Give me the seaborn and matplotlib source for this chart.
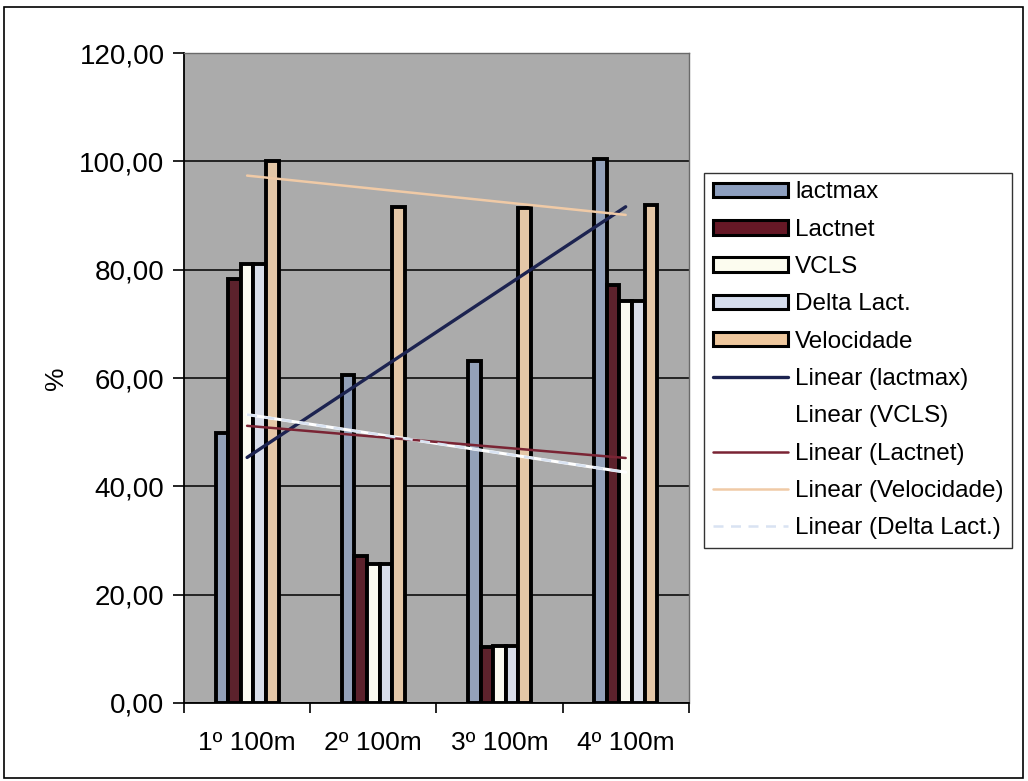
import matplotlib
matplotlib.use("Agg")
import matplotlib.pyplot as plt
import matplotlib.patches as mpatches
import numpy as np
import pandas as pd
import seaborn as sns

# data (percent values)
categories = ["1º 100m", "2º 100m", "3º 100m", "4º 100m"]
series = ["lactmax", "Lactnet", "VCLS", "Delta Lact.", "Velocidade"]
lactmax = [49.8, 60.6, 63.1, 100.4]
lactnet = [78.2, 27.1, 10.3, 77.2]
vcls = [81.1, 25.7, 10.6, 74.3]
delta_lact = [81.1, 25.7, 10.6, 74.3]
velocidade = [100.0, 91.6, 91.4, 92.0]

colors = ["#8d9fbf", "#661826", "#fcfcef", "#d5dcec", "#eec79d"]

rows = []
for name, vals in zip(series, [lactmax, lactnet, vcls, delta_lact, velocidade]):
    for cat, v in zip(categories, vals):
        rows.append({"cat": cat, "serie": name, "val": v})
df = pd.DataFrame(rows)

sns.set_style("white")
plt.rcParams["font.family"] = ["Liberation Sans", "DejaVu Sans"]
plt.rcParams["text.color"] = "black"
plt.rcParams["axes.labelcolor"] = "black"
plt.rcParams["xtick.color"] = "black"
plt.rcParams["ytick.color"] = "black"

fig = plt.figure(figsize=(10.28, 7.81), dpi=100)
ax = fig.add_axes([0.179, 0.1, 0.491, 0.832])
ax.set_facecolor("#ababab")

sns.barplot(data=df, x="cat", y="val", hue="serie", palette=colors, width=0.5,
            edgecolor="black", linewidth=2.8, ax=ax, zorder=3, legend=False)

# linear trendlines (excel style, fitted on category index)
xs = np.arange(len(categories))
trends = [
    ("Linear (lactmax)", lactmax, "#1c2350", "-", 2.4),
    ("Linear (VCLS)", vcls, "#ffffff", "-", 2.2),
    ("Linear (Lactnet)", lactnet, "#7a2434", "-", 1.8),
    ("Linear (Velocidade)", velocidade, "#f0caa6", "-", 1.8),
    ("Linear (Delta Lact.)", delta_lact, "#d9e3f2", (0, (4, 3)), 1.8),
]
trend_handles = []
for label, vals, col, ls, lw in trends:
    k, b = np.polyfit(xs, vals, 1)
    line, = ax.plot(xs, k * xs + b, color=col, ls=ls, lw=lw, zorder=4, label=label)
    trend_handles.append(line)

ax.set_ylim(0, 120)
ax.set_yticks(np.arange(0, 121, 20))
ax.set_yticklabels([f"{v:.2f}".replace(".", ",") for v in range(0, 121, 20)])
ax.set_xlim(-0.5, 3.5)
ax.set_xticks(xs)
ax.set_xticklabels(categories)
ax.set_xticks(np.arange(-0.5, 4, 1), minor=True)
ax.tick_params(axis="x", which="major", length=0, pad=20, labelsize=19)
ax.tick_params(axis="x", which="minor", length=7, width=1.2, color="black", direction="out")
ax.tick_params(axis="y", length=8, width=1.2, color="black", direction="out", pad=6, labelsize=20)
ax.tick_params(left=True, bottom=True, which="both")
ax.yaxis.grid(True, color="black", lw=1.1, zorder=1)
ax.set_axisbelow(True)
ax.set_xlabel("")
ax.set_ylabel("%", fontsize=19, labelpad=8)
for s in ["left", "bottom"]:
    ax.spines[s].set_color("black")
    ax.spines[s].set_linewidth(1.3)
for s in ["top", "right"]:
    ax.spines[s].set_color("#6a6a6a")
    ax.spines[s].set_linewidth(1.0)

bar_handles = [mpatches.Patch(facecolor=c, edgecolor="black", lw=2.2, label=n)
               for c, n in zip(colors, series)]
leg = fig.legend(handles=bar_handles + trend_handles, loc="upper left",
                 bbox_to_anchor=(0.685, 0.7785), bbox_transform=fig.transFigure,
                 borderaxespad=0, fontsize=17.5, frameon=True, fancybox=False,
                 handlelength=3.1, handleheight=0.55, handletextpad=0.3,
                 labelspacing=0.63, borderpad=0.35)
leg.get_frame().set_edgecolor("black")
leg.get_frame().set_linewidth(1.0)

# outer frame of the chart
fig.patches.append(mpatches.Rectangle((0.004, 0.004), 0.991, 0.987, transform=fig.transFigure,
                                      fill=False, edgecolor="black", lw=1.2))

fig.savefig("out.png", dpi=100)
